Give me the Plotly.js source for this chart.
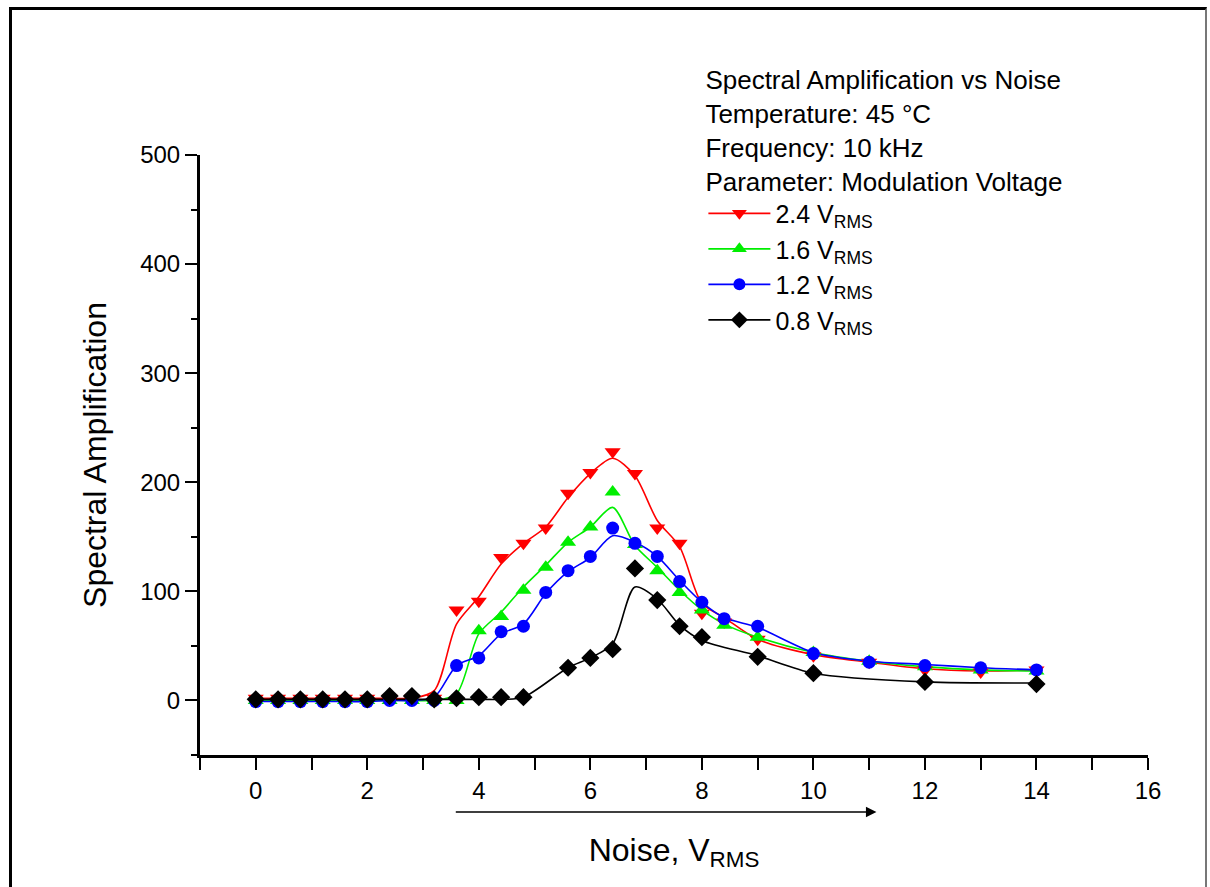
<!DOCTYPE html>
<html>
<head>
<meta charset="utf-8">
<script src="https://cdn.plot.ly/plotly-3.0.1.min.js"></script>
<style>
  html, body { margin: 0; padding: 0; background: #fff; }
  #chart { width: 1210px; height: 887px; }
  #frame { position: absolute; left: 9px; top: 7px; width: 1198px; height: 900px;
           border-left: 3px solid #000; border-top: 3px solid #000; border-right: 2px solid #777;
           pointer-events: none; box-sizing: border-box; }
</style>
</head>
<body>
<div id="chart"></div>
<div id="frame"></div>
<script>
// Noise (V_RMS) values for the 2.4, 1.6 and 1.2 V_RMS series
const xMain = [0, 0.4, 0.8, 1.2, 1.6, 2.0, 2.4, 2.8, 3.2, 3.6, 4.0, 4.4, 4.8, 5.2, 5.6, 6.0, 6.4, 6.8, 7.2, 7.6, 8.0, 8.4, 9, 10, 11, 12, 13, 14];
// Noise values for the 0.8 V_RMS series
const xLow = [0, 0.4, 0.8, 1.2, 1.6, 2.0, 2.4, 2.8, 3.2, 3.6, 4.0, 4.4, 4.8, 5.6, 6.0, 6.4, 6.8, 7.2, 7.6, 8.0, 9, 10, 12, 14];

// measured points (markers)
const amp24 = [2, 2, 2, 2, 2, 2, 2, 2, 2, 83, 91, 131, 144, 158, 190, 209, 228, 208, 158, 144, 80, 72, 56, 41, 35, 28, 26, 28];
const amp16 = [0, 0, 0, 0, 0, 0, 0, 0, 0, 0, 64, 77, 101, 122, 145, 159, 191, 143, 119, 99, 83, 69, 58, 44, 36, 31, 28, 27];
const amp12 = [-1, -1, -1, -1, -1, -1, 0, 0, 0, 32, 39, 63, 68, 99, 119, 132, 158, 144, 132, 109, 90, 75, 68, 43, 35, 32, 30, 28];
const amp08 = [1, 1, 1, 1, 1, 1, 4, 4, 1, 2, 3, 3, 3, 30, 39, 47, 121, 92, 68, 58, 40, 25, 17, 15];

// smoothed curves as drawn in the figure (read at the same noise values)
const fit24 = [2, 2, 2, 2, 2, 2, 2, 2, 9, 70, 95, 125, 144, 159, 186, 208, 222, 206, 165, 141, 89, 76, 56, 42, 35, 29, 27, 28];
const fit16 = [0, 0, 0, 0, 0, 0, 0, 0, 0, 6, 61, 81, 104, 124, 145, 159, 177, 142, 122, 101, 83, 70, 58, 44, 36, 31, 28, 27];
const fit12 = [-1, -1, -1, -1, -1, -1, 0, 0, 3, 32, 41, 61, 70, 98, 118, 131, 151, 145, 132, 110, 90, 76, 67, 44, 36, 33, 30, 28];
const fit08 = [1, 1, 1, 1, 1, 1, 1, 1, 1, 1, 1, 1, 3, 30, 39, 52, 104, 93, 69, 55, 41, 25, 17, 16];

const seriesNames = ["2.4 V<sub>RMS</sub>", "1.6 V<sub>RMS</sub>", "1.2 V<sub>RMS</sub>", "0.8 V<sub>RMS</sub>"];
const seriesColors = ["#ff0000", "#00ee00", "#0000ff", "#000000"];
const seriesSymbols = ["triangle-down", "triangle-up", "circle", "diamond"];
const seriesSizes = [14, 14, 13, 14];
const headerText = "Spectral Amplification vs Noise<br>Temperature: 45 °C<br>Frequency: 10 kHz<br>Parameter: Modulation Voltage";

const xs = [xMain, xMain, xMain, xLow];
const ys = [amp24, amp16, amp12, amp08];
const fits = [fit24, fit16, fit12, fit08];

const FONT = "Liberation Sans, Arial, sans-serif";
const traces = [];
for (let i = 0; i < 4; i++) {
  traces.push({
    x: xs[i], y: fits[i], type: "scatter", mode: "lines",
    line: { color: seriesColors[i], width: 1.6, shape: "spline", smoothing: 0.8 },
    showlegend: false, hoverinfo: "skip"
  });
}
for (let i = 0; i < 4; i++) {
  traces.push({
    x: xs[i], y: ys[i], type: "scatter", mode: "markers",
    marker: { color: seriesColors[i], symbol: seriesSymbols[i], size: seriesSizes[i], line: { width: 0 } },
    showlegend: false
  });
}
for (let i = 0; i < 4; i++) {
  traces.push({
    x: [null], y: [null], type: "scatter", mode: "lines+markers", name: seriesNames[i],
    line: { color: seriesColors[i], width: 1.6 },
    marker: { color: seriesColors[i], symbol: seriesSymbols[i], size: seriesSizes[i] - 1, line: { width: 0 } }
  });
}

const layout = {
  width: 1210, height: 887,
  margin: { l: 200, r: 62, t: 155, b: 132, autoexpand: false },
  paper_bgcolor: "#fff", plot_bgcolor: "#fff",
  font: { family: FONT, color: "#000", size: 24 },
  showlegend: true,
  legend: {
    x: 0.531, y: 1.166, xanchor: "left", yanchor: "top",
    bgcolor: "rgba(0,0,0,0)", borderwidth: 0,
    font: { family: FONT, size: 25, color: "#000" },
    title: { text: headerText, font: { family: FONT, size: 26, color: "#000" }, side: "top" },
    itemwidth: 62, tracegroupgap: 0
  },
  xaxis: {
    range: [-1, 16], dtick: 2, tick0: 0,
    showgrid: false, zeroline: false,
    showline: true, linecolor: "#000", linewidth: 3,
    ticks: "outside", ticklen: 12, tickwidth: 2, tickcolor: "#000",
    minor: { dtick: 1, ticks: "outside", ticklen: 12, tickwidth: 2, tickcolor: "#000", showgrid: false },
    tickfont: { family: FONT, size: 24 },
    ticklabelstandoff: 0,
    title: { text: "Noise, V<sub>RMS</sub>", font: { family: FONT, size: 32 }, standoff: 36 }
  },
  yaxis: {
    range: [-50, 500], dtick: 100, tick0: 0,
    showgrid: false, zeroline: false,
    showline: true, linecolor: "#000", linewidth: 3,
    ticks: "outside", ticklen: 12, tickwidth: 2, tickcolor: "#000",
    minor: { dtick: 50, ticks: "outside", ticklen: 6, tickwidth: 2, tickcolor: "#000", showgrid: false },
    tickfont: { family: FONT, size: 24 },
    ticklabelstandoff: 0,
    title: { text: "Spectral Amplification", font: { family: FONT, size: 32 }, standoff: 24 }
  },
  annotations: [{
    xref: "x", yref: "paper", x: 11.13, y: -0.095,
    axref: "x", ayref: "pixel", ax: 3.56, ay: 0,
    text: "", showarrow: true, arrowhead: 2, arrowsize: 1.4, arrowwidth: 1.5, arrowcolor: "#000"
  }]
};

Plotly.newPlot("chart", traces, layout, { displayModeBar: false, staticPlot: true });
</script>
</body>
</html>
